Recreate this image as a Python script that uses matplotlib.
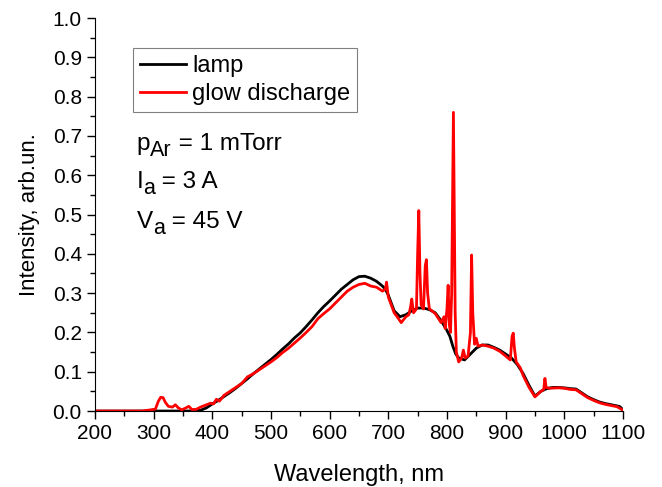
import numpy as np
import matplotlib
matplotlib.use("Agg")
import matplotlib.pyplot as plt
from matplotlib.ticker import MultipleLocator
from matplotlib.transforms import offset_copy

plt.rcParams['font.family'] = ['Liberation Sans', 'DejaVu Sans']

# lamp spectrum
lamp_wl = [200, 250, 300, 350, 370, 380, 390, 400, 410, 420, 430, 440, 450, 460, 470, 480,
           490, 500, 510, 520, 530, 540, 550, 560, 570, 580, 590, 600, 610, 620, 630, 640,
           650, 660, 670, 680, 690, 695, 700, 705, 710, 720, 730, 740, 750, 760, 770, 780,
           790, 800, 805, 810, 815, 820, 830, 840, 850, 860, 870, 880, 890, 900, 910, 920,
           930, 940, 950, 960, 970, 980, 990, 1000, 1010, 1020, 1030, 1040, 1050, 1060,
           1070, 1080, 1090, 1095, 1100]
lamp_int = [0.0, 0.0, 0.0, 0.0, 0.0, 0.002, 0.008, 0.018, 0.027, 0.037, 0.047, 0.058, 0.07,
            0.082, 0.095, 0.107, 0.119, 0.131, 0.144, 0.158, 0.171, 0.186, 0.199, 0.215,
            0.232, 0.25, 0.266, 0.28, 0.295, 0.31, 0.322, 0.334, 0.342, 0.343, 0.338, 0.33,
            0.318, 0.31, 0.295, 0.275, 0.255, 0.24, 0.245, 0.255, 0.262, 0.262, 0.258, 0.25,
            0.23, 0.205, 0.19, 0.165, 0.145, 0.135, 0.13, 0.145, 0.16, 0.168, 0.168, 0.162,
            0.155, 0.145, 0.135, 0.118, 0.095, 0.065, 0.038, 0.05, 0.057, 0.06, 0.06, 0.059,
            0.057, 0.056, 0.046, 0.036, 0.029, 0.023, 0.019, 0.016, 0.013, 0.011, 0.003]

# glow discharge spectrum
glow_wl = [200, 280, 295, 303, 308, 312, 316, 320, 325, 332, 337, 342, 348, 355, 360, 365,
           372, 380, 390, 397, 402, 407, 412, 420, 430, 440, 450, 460, 470, 480, 490, 500,
           510, 520, 530, 540, 550, 560, 570, 580, 590, 600, 610, 620, 630, 640, 650, 660,
           670, 680, 690, 695, 697, 700, 705, 710, 715, 722, 730, 735, 738, 740, 743, 748,
           750, 752, 754, 756, 760, 763, 765, 767, 770, 780, 790, 795, 797, 800, 802, 804,
           806, 808, 810, 811, 812, 814, 816, 820, 825, 828, 831, 836, 840, 842, 844, 847,
           850, 853, 860, 870, 880, 890, 900, 908, 911, 913, 915, 918, 925, 930, 940, 950,
           960, 965, 967, 969, 975, 990, 1000, 1010, 1020, 1030, 1040, 1050, 1060, 1070,
           1080, 1090, 1100]
glow_int = [0.0, 0.0, 0.003, 0.005, 0.025, 0.035, 0.034, 0.022, 0.012, 0.01, 0.016, 0.008,
            0.003, 0.008, 0.012, 0.004, 0.004, 0.01, 0.016, 0.02, 0.018, 0.03, 0.025, 0.04,
            0.05, 0.06, 0.07, 0.087, 0.095, 0.105, 0.115, 0.125, 0.136, 0.149, 0.16, 0.173,
            0.186, 0.2, 0.215, 0.235, 0.248, 0.26, 0.275, 0.29, 0.305, 0.315, 0.322, 0.325,
            0.318, 0.315, 0.305, 0.31, 0.328, 0.29, 0.27, 0.25, 0.24, 0.225, 0.24, 0.245,
            0.265, 0.285, 0.25, 0.26, 0.4, 0.51, 0.35, 0.27, 0.26, 0.37, 0.385, 0.3, 0.26,
            0.248, 0.225, 0.24, 0.21, 0.26, 0.32, 0.22, 0.2, 0.3, 0.6, 0.76, 0.6, 0.25, 0.15,
            0.125, 0.135, 0.155, 0.135, 0.14, 0.2, 0.397, 0.25, 0.17, 0.185, 0.165, 0.168,
            0.165, 0.16, 0.152, 0.14, 0.13, 0.19, 0.198, 0.16, 0.125, 0.11, 0.09, 0.06, 0.036,
            0.05, 0.055, 0.083, 0.06, 0.058, 0.059, 0.058, 0.055, 0.054, 0.044, 0.034, 0.027,
            0.021, 0.017, 0.014, 0.011, 0.002]

# conditions: (main, subscript, rest)
conditions = [('p', 'Ar', ' = 1 mTorr'), ('I', 'a', ' = 3 A'), ('V', 'a', ' = 45 V')]
cond_y = [0.664, 0.567, 0.466]

fig = plt.figure(figsize=(6.62, 4.87), dpi=100)
ax = fig.add_axes([0.1435, 0.156, 0.7975, 0.807])

ax.plot(lamp_wl, lamp_int, color='black', lw=2.0, label='lamp')
ax.plot(glow_wl, glow_int, color='#ff0000', lw=2.0, label='glow discharge')

ax.set_xlim(200, 1100)
ax.set_ylim(0, 1.0)
ax.xaxis.set_major_locator(MultipleLocator(100))
ax.xaxis.set_minor_locator(MultipleLocator(50))
ax.yaxis.set_major_locator(MultipleLocator(0.1))
ax.yaxis.set_minor_locator(MultipleLocator(0.05))
ax.yaxis.set_major_formatter(plt.FuncFormatter(lambda v, p: f'{v:.1f}'))
ax.spines['top'].set_visible(False)
ax.spines['right'].set_visible(False)
ax.tick_params(which='major', direction='out', length=6, width=1.0, labelsize=15)
ax.tick_params(which='minor', direction='out', length=3.5, width=1.0)

ax.set_xlabel('Wavelength, nm', fontsize=17, labelpad=15)
ax.set_ylabel('Intensity, arb.un.', fontsize=16, labelpad=9)

leg = ax.legend(loc='upper left', bbox_to_anchor=(0.072, 0.924), fontsize=17,
                fancybox=False, framealpha=1, edgecolor='#808080',
                handlelength=1.95, handletextpad=0.25, borderpad=0.3,
                labelspacing=0.25, borderaxespad=0)
leg.get_frame().set_linewidth(0.8)

# parameter text with lowered, near full-size subscripts
renderer = fig.canvas.get_renderer()
for (main, sub, rest), yy in zip(conditions, cond_y):
    t = ax.text(0.079, yy, main, transform=ax.transAxes, fontsize=17.5)
    dx = t.get_window_extent(renderer).width
    tr = offset_copy(ax.transAxes, fig=fig, x=dx, y=-6, units='dots')
    s = ax.text(0.079, yy, sub, transform=tr, fontsize=15.5)
    dx += s.get_window_extent(renderer).width
    tr = offset_copy(ax.transAxes, fig=fig, x=dx, y=0, units='dots')
    ax.text(0.079, yy, rest, transform=tr, fontsize=17.5)

fig.savefig('out.png', dpi=100)
